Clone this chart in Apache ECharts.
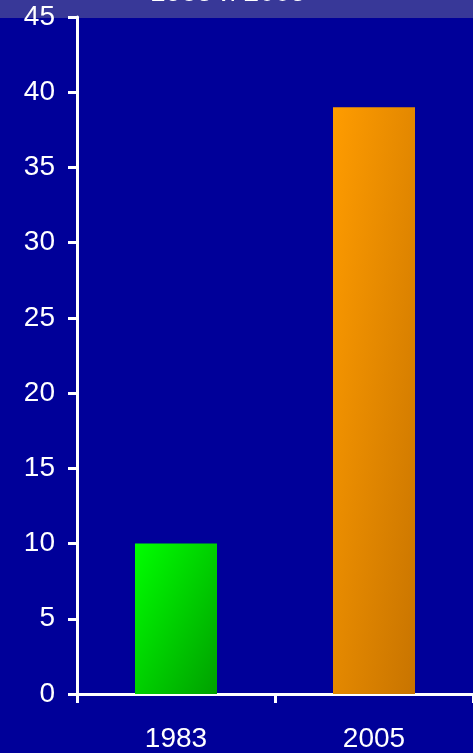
<!DOCTYPE html>
<html>
<head>
<meta charset="utf-8">
<script src="https://cdn.jsdelivr.net/npm/echarts@6/dist/echarts.min.js"></script>
<style>
  html, body { margin: 0; padding: 0; background: #000099; }
  #chart { width: 473px; height: 753px; }
</style>
</head>
<body>
<div id="chart"></div>
<script>
// Years and values
const categories = ['1983', '2005'];
const values = [10, 39];
const yTicks = { min: 0, max: 45, interval: 5 };
const titleText = '1983 и 2005';

// Bar fills: light at the top-left corner, dark at the bottom-right corner
const barFills = [
  ['#00ff00', '#00a000'],
  ['#ff9c00', '#c87400']
];
const BAR_WIDTH = 82;

const chart = echarts.init(document.getElementById('chart'), null, { renderer: 'canvas' });

const font = '"Liberation Sans", Arial, sans-serif';

chart.setOption({
  backgroundColor: '#000099',
  animation: false,
  grid: { left: 77, width: 399, top: 17, bottom: 59, containLabel: false },
  graphic: [
    {
      type: 'rect',
      left: 0, top: 0,
      shape: { width: 473, height: 18 },
      style: { fill: '#383898' },
      z: 0
    },
    {
      type: 'text',
      x: 228, y: 7,
      style: {
        text: titleText,
        fill: '#ffffff',
        font: '28px ' + font,
        align: 'center',
        verticalAlign: 'bottom'
      },
      z: 1
    }
  ],
  xAxis: {
    type: 'category',
    data: categories,
    boundaryGap: true,
    axisLine: { show: true, lineStyle: { color: '#ffffff', width: 3 } },
    axisTick: { show: true, length: 9, lineStyle: { color: '#ffffff', width: 3 } },
    axisLabel: { color: '#ffffff', fontSize: 28, fontFamily: font, margin: 31 },
    splitLine: { show: false }
  },
  yAxis: {
    type: 'value',
    min: yTicks.min,
    max: yTicks.max,
    interval: yTicks.interval,
    axisLine: { show: true, lineStyle: { color: '#ffffff', width: 3 } },
    axisTick: { show: true, length: 9, lineStyle: { color: '#ffffff', width: 3 } },
    axisLabel: { color: '#ffffff', fontSize: 28, fontFamily: font, margin: 22 },
    splitLine: { show: false }
  },
  series: [{
    type: 'bar',
    barWidth: BAR_WIDTH,
    data: values
  }]
});

// Shade each bar corner-to-corner: the gradient runs perpendicular to the
// bar's anti-diagonal, so top-right and bottom-left share the middle tone.
const base = chart.convertToPixel({ yAxisIndex: 0 }, 0);
const shaded = values.map((v, i) => {
  const w = BAR_WIDTH;
  const h = Math.abs(base - chart.convertToPixel({ yAxisIndex: 0 }, v));
  const d = h * h + w * w;
  const x2 = 2 * h * h / d;
  const y2 = 2 * w * w / d;
  return {
    value: v,
    itemStyle: {
      color: new echarts.graphic.LinearGradient(0, 0, x2, y2, [
        { offset: 0, color: barFills[i][0] },
        { offset: 1, color: barFills[i][1] }
      ])
    }
  };
});
chart.setOption({ series: [{ data: shaded }] });
</script>
</body>
</html>
